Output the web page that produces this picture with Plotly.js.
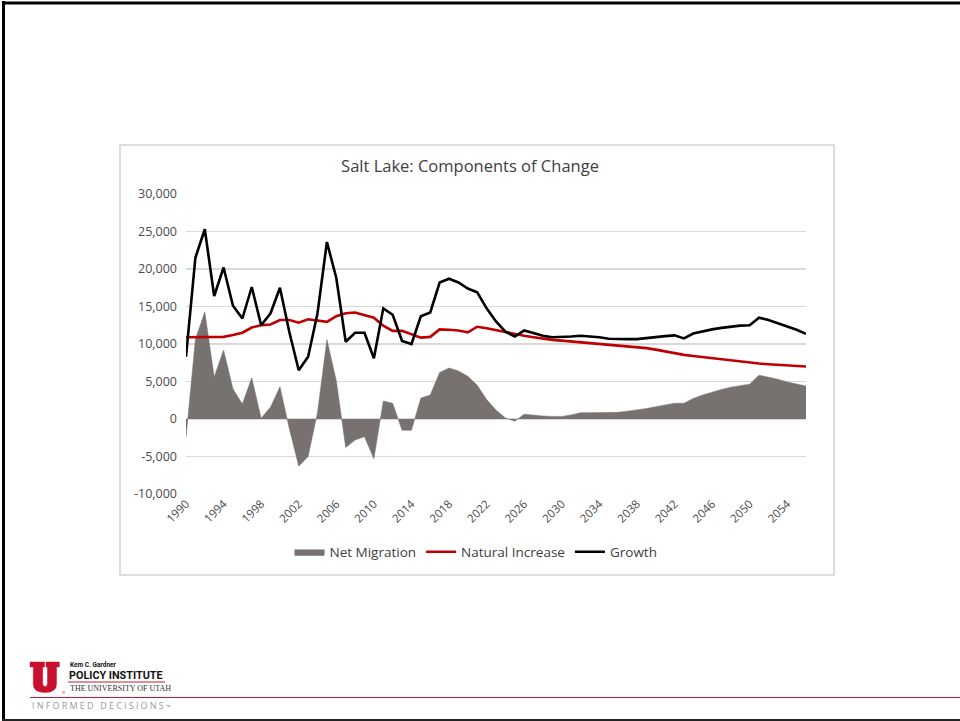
<!DOCTYPE html>
<html>
<head>
<meta charset="utf-8">
<script src="https://cdn.plot.ly/plotly-3.0.1.min.js"></script>
<style>
html,body{margin:0;padding:0;background:#fff;}
#chart{width:960px;height:721px;}
</style>
</head>
<body>
<div id="chart"></div>
<script>
// ---------- DATA ----------
const years = [];
for (let y = 1990; y <= 2056; y++) years.push(y);

const netMigration = [
  -2500, 10600, 14300, 5600, 9200, 4000, 2000, 5500, 100, 1600,
  4300, -1300, -6300, -5000, 900, 10600, 5100, -3800, -2800, -2350,
  -5300, 2400, 2100, -1500, -1500, 2800, 3200, 6200, 6800, 6400,
  5700, 4500, 2600, 1200, 150, -300, 650, 500, 400, 350,
  350, 550, 850, 850, 850, 850, 900, 1050, 1200, 1400,
  1650, 1900, 2100, 2100, 2750, 3200, 3600, 3950, 4250, 4450,
  4650, 5850, 5600, 5300, 4950, 4650, 4400
];

const naturalIncrease = [
  10900, 10900, 10900, 10950, 10950, 11200, 11500, 12200, 12500, 12600,
  13200, 13200, 12850, 13300, 13150, 12950, 13700, 14100, 14200, 13900,
  13500, 12450, 11750, 11750, 11350, 10850, 10950, 11950, 11900, 11800,
  11550, 12300, 12100, 11850, 11550, 11350, 11100, 10900, 10700, 10550,
  10450, 10350, 10250, 10150, 10050, 9950, 9850, 9750, 9650, 9450,
  9250, 9000, 8800, 8550, 8400, 8250, 8100, 7950, 7800, 7650,
  7500, 7400, 7300, 7200, 7120, 7050, 7000
];

const growth = [
  8300, 21500, 25300, 16400, 20200, 15100, 13400, 17600, 12500, 14100,
  17500, 11600, 6500, 8300, 14100, 23600, 18800, 10300, 11500, 11500,
  8100, 14750, 13900, 10400, 10000, 13700, 14200, 18200, 18700, 18200,
  17400, 16900, 14750, 13000, 11650, 11000, 11800, 11400, 11100, 10900,
  10900, 11000, 11100, 11050, 10900, 10700, 10650, 10650, 10650, 10800,
  10950, 11050, 11150, 10750, 11400, 11700, 11950, 12150, 12300, 12450,
  12500, 13500, 13200, 12800, 12400, 11900, 11350
];

const xTickVals = [1990,1994,1998,2002,2006,2010,2014,2018,2022,2026,2030,2034,2038,2042,2046,2050,2054];
const xTickText = ['1990','1994','1998','2002','2006','2010','2014','2018','2022','2026','2030','2034','2038','2042','2046','2050','2054'];
const yTickVals = [-10000,-5000,0,5000,10000,15000,20000,25000,30000];
const yTickText = ['-10,000','-5,000','0','5,000','10,000','15,000','20,000','25,000','30,000'];

const seriesNames = ['Net Migration','Natural Increase','Growth'];
const chartTitle = 'Salt Lake: Components of Change';

// ---------- LAYOUT HELPERS ----------
const L = 186, T = 194, W = 620, H = 300;
const px = p => (p - L) / W;
const py = p => (T + H - p) / H;
function pathPx(cmds) {
  return cmds.map(c => {
    const k = c[0];
    if (k === 'Z') return 'Z';
    const nums = c.slice(1);
    const out = [];
    for (let i = 0; i < nums.length; i += 2) {
      out.push(px(nums[i]).toFixed(5) + ',' + py(nums[i+1]).toFixed(5));
    }
    return k + out.join(' ');
  }).join(' ');
}

const uPath = pathPx([
  ['M',30,662],['L',44.5,662],['L',44.5,667],['L',42.7,667],['L',42.7,683],
  ['Q',42.7,686.5,45.2,686.5],['Q',47.5,686.5,47.5,683],['L',47.5,667],['L',46,667],['L',46,662],
  ['L',59.3,662],['L',59.3,667],['L',56.5,667],['L',56.5,684],
  ['Q',56.5,692.5,45.2,692.5],['Q',33.3,692.5,33.3,684],['L',33.3,667],['L',30,667],['Z']
]);

const fontMain = "'Open Sans', 'Noto Sans', sans-serif";
const fontNarrow = "'Liberation Sans Narrow', Roboto, sans-serif";

const traces = [
  {
    x: years, y: netMigration, name: seriesNames[0], type: 'scatter', mode: 'lines',
    fill: 'tozeroy', fillcolor: '#777170', line: {color: '#777170', width: 0.5}
  },
  {
    x: years, y: naturalIncrease, name: seriesNames[1], type: 'scatter', mode: 'lines',
    line: {color: '#c00000', width: 2.6}
  },
  {
    x: years, y: growth, name: seriesNames[2], type: 'scatter', mode: 'lines',
    line: {color: '#000000', width: 2.6}
  }
];

const layout = {
  width: 960, height: 721,
  margin: {l: L, r: 960 - L - W, t: T, b: 721 - T - H, pad: 0},
  paper_bgcolor: '#ffffff', plot_bgcolor: '#ffffff',
  font: {family: fontMain, color: '#404040'},
  title: {
    text: chartTitle, font: {family: fontMain, size: 16.5, color: '#404040'},
    x: 470 / 960, xanchor: 'center', xref: 'container',
    y: 1 - 166 / 721, yanchor: 'middle', yref: 'container'
  },
  showlegend: true,
  legend: {
    orientation: 'h', x: px(476), xanchor: 'center', y: py(552), yanchor: 'middle',
    font: {family: fontMain, size: 13.5, color: '#404040'}, bgcolor: 'rgba(0,0,0,0)',
    traceorder: 'normal'
  },
  xaxis: {
    type: 'linear', range: [1990, 2056], showgrid: false, zeroline: false, showline: false,
    ticks: '', tickmode: 'array', tickvals: xTickVals, ticktext: xTickText, tickangle: -45,
    tickfont: {family: fontMain, size: 11.5, color: '#4a4a4a'}, fixedrange: true
  },
  yaxis: {
    range: [-10000, 30000], tickmode: 'array', tickvals: yTickVals, ticktext: yTickText,
    showgrid: true, gridcolor: '#d9d9d9', gridwidth: 1.3,
    zeroline: true, zerolinecolor: '#d9d9d9', zerolinewidth: 1.3, showline: false,
    ticks: '', ticklabelstandoff: 8,
    tickfont: {family: fontMain, size: 12.5, color: '#4a4a4a'}, fixedrange: true
  },
  shapes: [
    {type: 'rect', xref: 'paper', yref: 'paper', x0: px(120), x1: px(834), y0: py(575), y1: py(145),
     line: {color: '#d2d2d2', width: 1.5}, layer: 'below'},
    {type: 'line', xref: 'paper', yref: 'paper', x0: px(3.5), x1: px(3.5), y0: py(1), y1: py(721),
     line: {color: '#000', width: 3}},
    {type: 'line', xref: 'paper', yref: 'paper', x0: px(2), x1: px(960), y0: py(3), y1: py(3),
     line: {color: '#000', width: 3}},
    {type: 'line', xref: 'paper', yref: 'paper', x0: px(2), x1: px(960), y0: py(720), y1: py(720),
     line: {color: '#222', width: 2}},
    {type: 'line', xref: 'paper', yref: 'paper', x0: px(30), x1: px(960), y0: py(697.5), y1: py(697.5),
     line: {color: '#be1e2d', width: 1.2}},
    {type: 'line', xref: 'paper', yref: 'paper', x0: px(68), x1: px(165), y0: py(682), y1: py(682),
     line: {color: '#be1e2d', width: 1}},
    {type: 'path', xref: 'paper', yref: 'paper', path: uPath,
     fillcolor: '#c8102e', line: {color: '#c8102e', width: 0.5}}
  ],
  annotations: [
    {text: '<b>Kem C. Gardner</b>', xref: 'paper', yref: 'paper', x: px(67.5), y: py(664.5),
     xanchor: 'left', yanchor: 'middle', showarrow: false,
     font: {family: fontNarrow, size: 6.5, color: '#111'}},
    {text: '<b>POLICY INSTITUTE</b>', xref: 'paper', yref: 'paper', x: px(67), y: py(675.5),
     xanchor: 'left', yanchor: 'middle', showarrow: false,
     font: {family: fontNarrow, size: 10.8, color: '#111'}},
    {text: 'THE UNIVERSITY OF UTAH', xref: 'paper', yref: 'paper', x: px(68), y: py(688.5),
     xanchor: 'left', yanchor: 'middle', showarrow: false,
     font: {family: "'Liberation Serif', 'DejaVu Serif', serif", size: 8, color: '#333'}},
    {text: '®', xref: 'paper', yref: 'paper', x: px(59.5), y: py(692),
     xanchor: 'left', yanchor: 'middle', showarrow: false,
     font: {family: fontMain, size: 4, color: '#c8102e'}},
    {text: '<span style="letter-spacing:2.2px">INFORMED DECISIONS</span><span style="font-size:6px">™</span>',
     xref: 'paper', yref: 'paper', x: px(30), y: py(705.5),
     xanchor: 'left', yanchor: 'middle', showarrow: false,
     font: {family: fontMain, size: 9, color: '#9a9a9a'}}
  ]
};

Plotly.newPlot('chart', traces, layout, {displayModeBar: false, staticPlot: true});
</script>
</body>
</html>
